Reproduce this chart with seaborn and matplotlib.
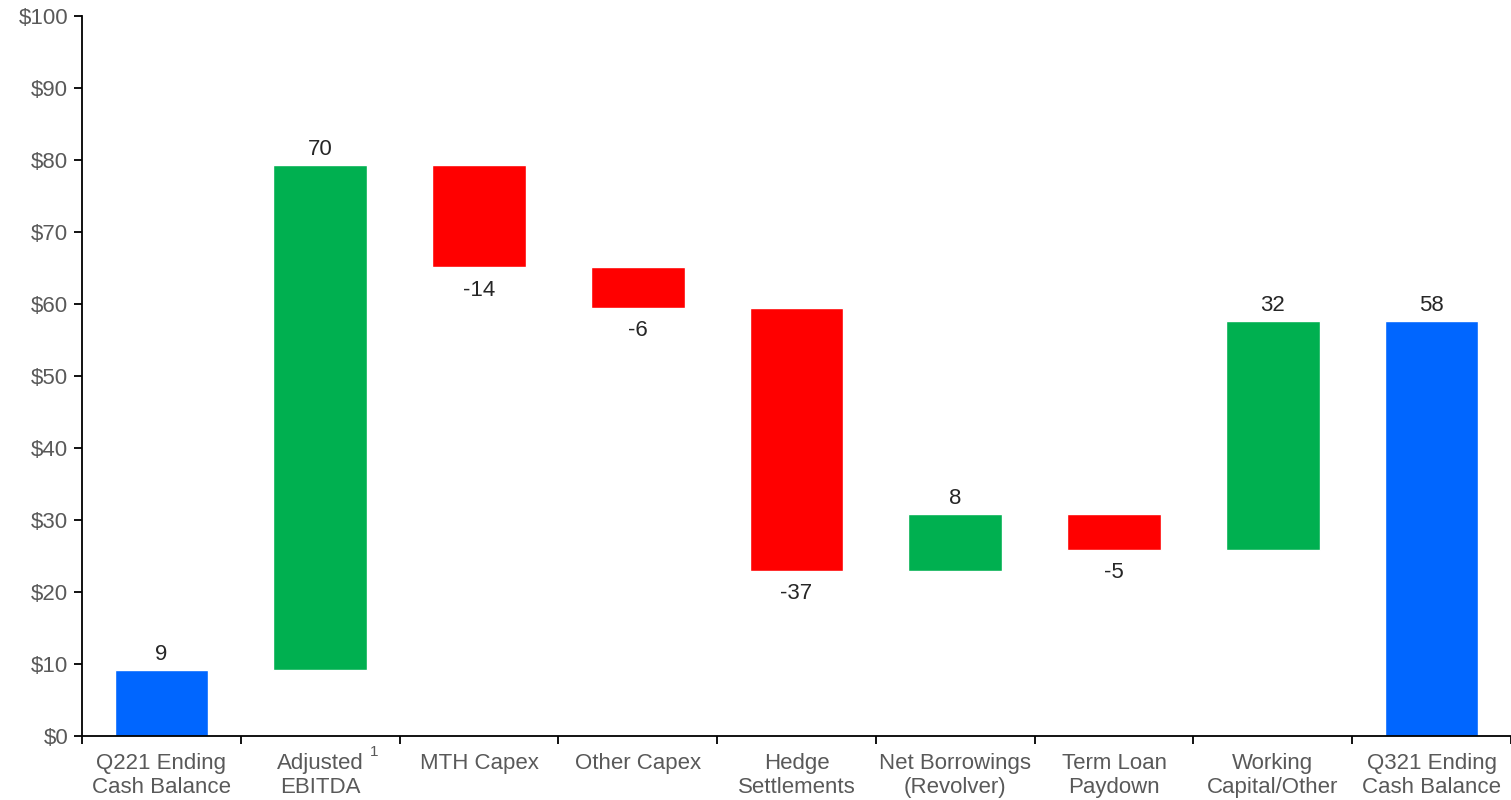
import matplotlib
matplotlib.use("Agg")
import matplotlib.pyplot as plt
import seaborn as sns
import pandas as pd
import numpy as np

# données du pont de trésorerie ($M)
categories = ["Q221 Ending\nCash Balance", "Adjusted\nEBITDA", "MTH Capex", "Other Capex",
              "Hedge\nSettlements", "Net Borrowings\n(Revolver)", "Term Loan\nPaydown",
              "Working\nCapital/Other", "Q321 Ending\nCash Balance"]
values = [9.1, 70.2, -14.2, -5.6, -36.6, 7.9, -5.0, 31.8, 57.6]
labels = ["9", "70", "-14", "-6", "-37", "8", "-5", "32", "58"]
kinds = ["total", "up", "down", "down", "down", "up", "down", "up", "total"]

colors = {"total": "#0066FF", "up": "#00B050", "down": "#FF0000"}

# calcul des bases de la cascade
bottoms = []
heights = []
running = 0.0
for v, k in zip(values, kinds):
    if k == "total":
        bottoms.append(0.0)
        heights.append(v)
        running = v
    else:
        if v >= 0:
            bottoms.append(running)
        else:
            bottoms.append(running + v)
        heights.append(abs(v))
        running += v

df = pd.DataFrame({"cat": categories, "height": heights, "bottom": bottoms, "kind": kinds})

sns.set_style("white")
plt.rcParams["font.family"] = ["Liberation Sans", "DejaVu Sans"]
FS = 16

fig = plt.figure(figsize=(15.11, 8), dpi=100)
ax = fig.add_axes([0.0543, 0.08, 0.9457, 0.9])

# une barre par appel pour pouvoir passer la base (bottom)
for i, row in df.iterrows():
    sns.barplot(data=df.iloc[[i]], x="cat", y="height", order=categories,
                bottom=row["bottom"], color=colors[row["kind"]], saturation=1,
                width=0.59, ax=ax)

# étiquettes des valeurs
for i, (v, k, lab) in enumerate(zip(values, kinds, labels)):
    top = bottoms[i] + heights[i]
    if k == "down":
        ax.text(i, bottoms[i] - 1.7, lab, ha="center", va="top", fontsize=FS, color="#262626")
    else:
        ax.text(i, top + 0.7, lab, ha="center", va="bottom", fontsize=FS, color="#262626")

ax.set_xlim(-0.5, len(categories) - 0.5)
ax.set_ylim(0, 100)
ax.set_yticks(np.arange(0, 101, 10))
ax.set_yticklabels([f"${t}" for t in range(0, 101, 10)], fontsize=FS, color="#595959")
ax.tick_params(axis="y", length=6, width=1.3, color="black", pad=4, left=True)

ax.set_xticks(range(len(categories)))
ax.set_xticklabels(categories, fontsize=FS, color="#595959", linespacing=1.2)
ax.tick_params(axis="x", which="major", length=0, pad=12)
ax.set_xticks(np.arange(-0.5, len(categories), 1.0), minor=True)
ax.tick_params(axis="x", which="minor", length=6, width=1.3, color="black", bottom=True)

# exposant de renvoi sur Adjusted EBITDA
ax.text(1.34, -1.3, "1", ha="center", va="top", fontsize=11, color="#595959")

ax.set_xlabel("")
ax.set_ylabel("")
for s in ["top", "right"]:
    ax.spines[s].set_visible(False)
for s in ["left", "bottom"]:
    ax.spines[s].set_color("black")
    ax.spines[s].set_linewidth(1.3)

fig.savefig("out.png", dpi=100)
